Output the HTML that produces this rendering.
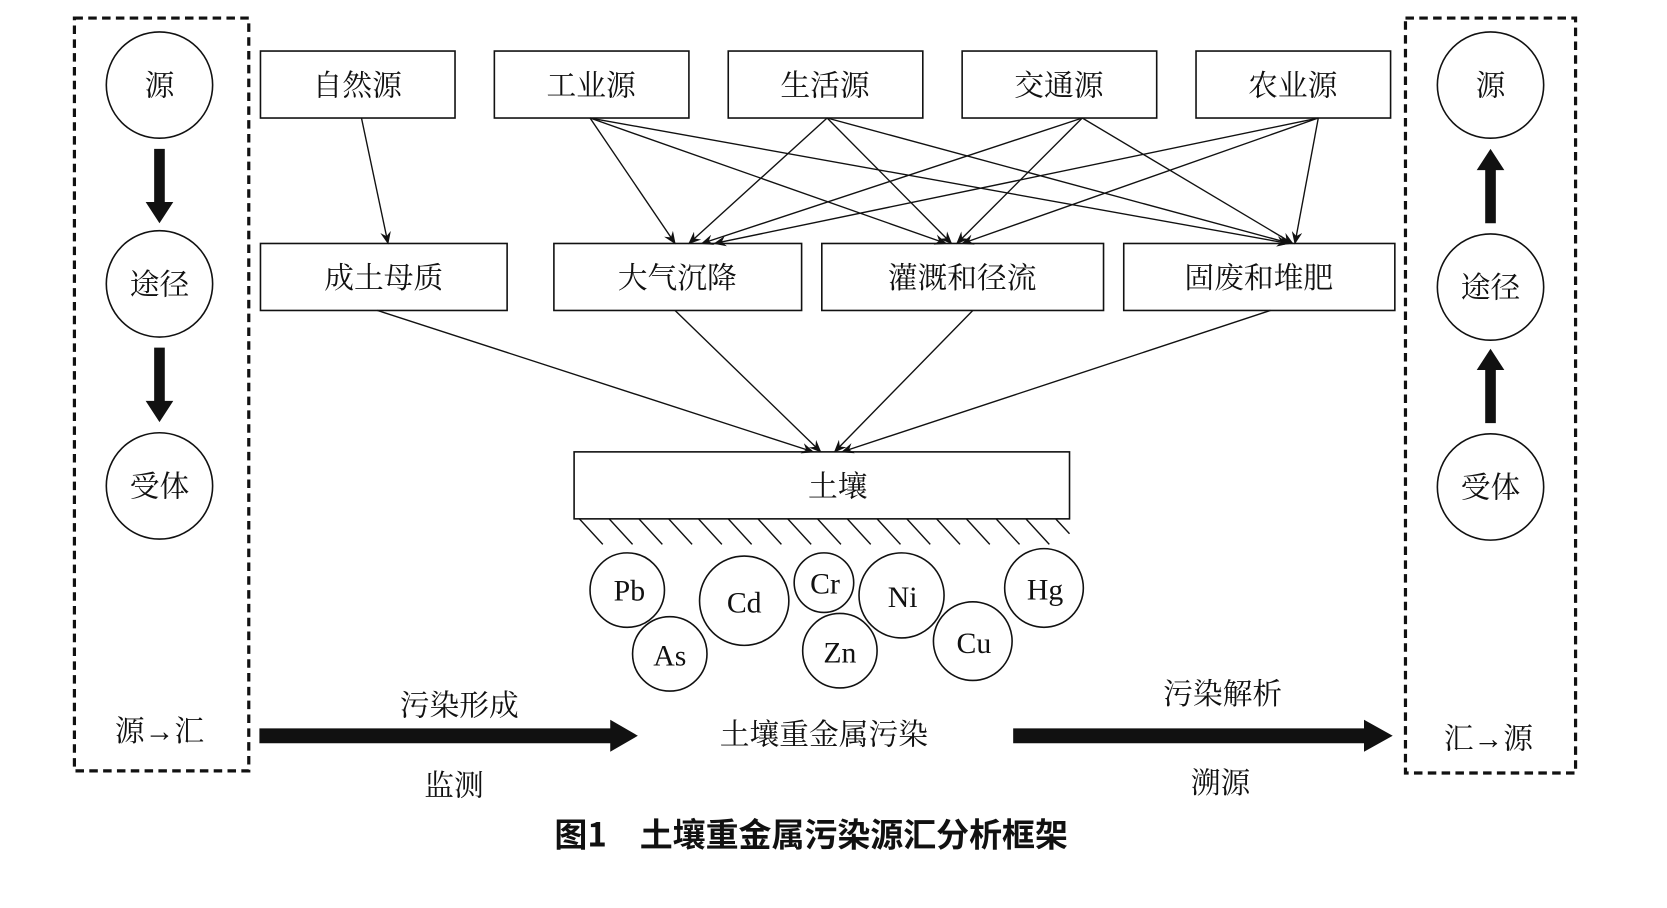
<!DOCTYPE html>
<html><head><meta charset="utf-8"><style>
html,body{margin:0;padding:0;background:#fff;}
svg{display:block}
text{font-family:"Liberation Serif","Noto Serif CJK SC","Noto Sans CJK SC",serif;fill:#111;}
</style></head><body>
<svg width="1667" height="908" viewBox="0 0 1568 854" preserveAspectRatio="none" xmlns="http://www.w3.org/2000/svg">
<defs>
<marker id="a" markerWidth="12" markerHeight="10" refX="11" refY="5" orient="auto" markerUnits="userSpaceOnUse">
<path d="M0,0 L12,5 L0,10 L4,5 Z" fill="#111"/></marker>
</defs>
<g stroke="#111" stroke-width="3" fill="none" stroke-dasharray="8,5">
<rect x="70" y="17" width="164" height="708"/>
<rect x="1322" y="17" width="160" height="710"/>
</g>
<g stroke="#111" stroke-width="1.5" fill="#fff">
<circle cx="150" cy="80" r="50"/><circle cx="150" cy="267" r="50"/><circle cx="150" cy="457" r="50"/>
<circle cx="1402" cy="80" r="50"/><circle cx="1402" cy="270" r="50"/><circle cx="1402" cy="458" r="50"/>
</g>
<g fill="#111">
<path d="M145,140 h10 v50 h8 l-13,20 l-13,-20 h8z"/>
<path d="M145,327 h10 v50 h8 l-13,20 l-13,-20 h8z"/>
<path d="M1397,210 h10 v-50 h8 l-13,-20 l-13,20 h8z"/>
<path d="M1397,398 h10 v-50 h8 l-13,-20 l-13,20 h8z"/>
<path d="M244,685 h330 v-8 l26,15 l-26,15 v-8 h-330z"/>
<path d="M953,685 h330 v-8 l27,15 l-27,15 v-8 h-330z"/>
</g>
<g font-size="28" text-anchor="middle">
<text x="150" y="90">源</text><text x="150" y="277">途径</text><text x="150" y="467">受体</text>
<text x="1402" y="90">源</text><text x="1402" y="280">途径</text><text x="1402" y="468">受体</text>
<text x="150" y="697">源→汇</text><text x="1400" y="704">汇→源</text>
</g>
<g stroke="#111" stroke-width="1.5" fill="#fff">
<rect x="245" y="48" width="183" height="63"/><rect x="465" y="48" width="183" height="63"/>
<rect x="685" y="48" width="183" height="63"/><rect x="905" y="48" width="183" height="63"/>
<rect x="1125" y="48" width="183" height="63"/>
<rect x="245" y="229" width="232" height="63"/><rect x="521" y="229" width="233" height="63"/>
<rect x="773" y="229" width="265" height="63"/><rect x="1057" y="229" width="255" height="63"/>
<rect x="540" y="425" width="466" height="63"/>
</g>
<g font-size="28" text-anchor="middle">
<text x="336" y="90">自然源</text><text x="556" y="90">工业源</text><text x="776" y="90">生活源</text>
<text x="996" y="90">交通源</text><text x="1216" y="90">农业源</text>
<text x="361" y="271">成土母质</text><text x="637" y="271">大气沉降</text>
<text x="905" y="271">灌溉和径流</text><text x="1184" y="271">固废和堆肥</text>
<text x="788" y="467">土壤</text>
</g>
<g stroke="#111" stroke-width="1.3" marker-end="url(#a)">
<line x1="340" y1="111" x2="365" y2="229"/>
<line x1="555" y1="111" x2="635" y2="229"/><line x1="555" y1="111" x2="890" y2="229"/><line x1="555" y1="111" x2="1212" y2="229"/>
<line x1="778" y1="111" x2="648" y2="229"/><line x1="778" y1="111" x2="895" y2="229"/><line x1="778" y1="111" x2="1214" y2="229"/>
<line x1="1018" y1="111" x2="660" y2="229"/><line x1="1018" y1="111" x2="900" y2="229"/><line x1="1018" y1="111" x2="1216" y2="229"/>
<line x1="1240" y1="111" x2="672" y2="229"/><line x1="1240" y1="111" x2="905" y2="229"/><line x1="1240" y1="111" x2="1218" y2="229"/>
<line x1="355" y1="292" x2="765" y2="425"/><line x1="635" y1="292" x2="772" y2="425"/>
<line x1="915" y1="292" x2="785" y2="425"/><line x1="1195" y1="292" x2="792" y2="425"/>
</g>
<g stroke="#111" stroke-width="1.3">
<line x1="545" y1="488" x2="567" y2="512"/><line x1="573" y1="488" x2="595" y2="512"/>
<line x1="601" y1="488" x2="623" y2="512"/><line x1="629" y1="488" x2="651" y2="512"/>
<line x1="657" y1="488" x2="679" y2="512"/><line x1="685" y1="488" x2="707" y2="512"/>
<line x1="713" y1="488" x2="735" y2="512"/><line x1="741" y1="488" x2="763" y2="512"/>
<line x1="769" y1="488" x2="791" y2="512"/><line x1="797" y1="488" x2="819" y2="512"/>
<line x1="825" y1="488" x2="847" y2="512"/><line x1="853" y1="488" x2="875" y2="512"/>
<line x1="881" y1="488" x2="903" y2="512"/><line x1="909" y1="488" x2="931" y2="512"/>
<line x1="937" y1="488" x2="959" y2="512"/><line x1="965" y1="488" x2="987" y2="512"/>
<line x1="993" y1="488" x2="1006" y2="502"/>
</g>
<g stroke="#111" stroke-width="1.5" fill="#fff">
<circle cx="590" cy="555" r="35"/><circle cx="630" cy="615" r="35"/><circle cx="700" cy="565" r="42"/>
<circle cx="775" cy="548" r="28"/><circle cx="790" cy="612" r="35"/><circle cx="848" cy="560" r="40"/>
<circle cx="915" cy="603" r="37"/><circle cx="982" cy="553" r="37"/>
</g>
<g font-size="28" text-anchor="middle">
<text x="592" y="565">Pb</text><text x="630" y="626">As</text><text x="700" y="576">Cd</text>
<text x="776" y="558">Cr</text><text x="790" y="623">Zn</text><text x="849" y="571">Ni</text>
<text x="916" y="614">Cu</text><text x="983" y="564">Hg</text>
<text x="432" y="673">污染形成</text><text x="427" y="748">监测</text>
<text x="775" y="700">土壤重金属污染</text>
<text x="1150" y="662">污染解析</text><text x="1148" y="746">溯源</text>
</g>
<text x="763" y="796" font-size="31" font-weight="bold" text-anchor="middle" style="font-family:'Noto Sans CJK SC',sans-serif">图1　土壤重金属污染源汇分析框架</text>
</svg>
</body></html>
